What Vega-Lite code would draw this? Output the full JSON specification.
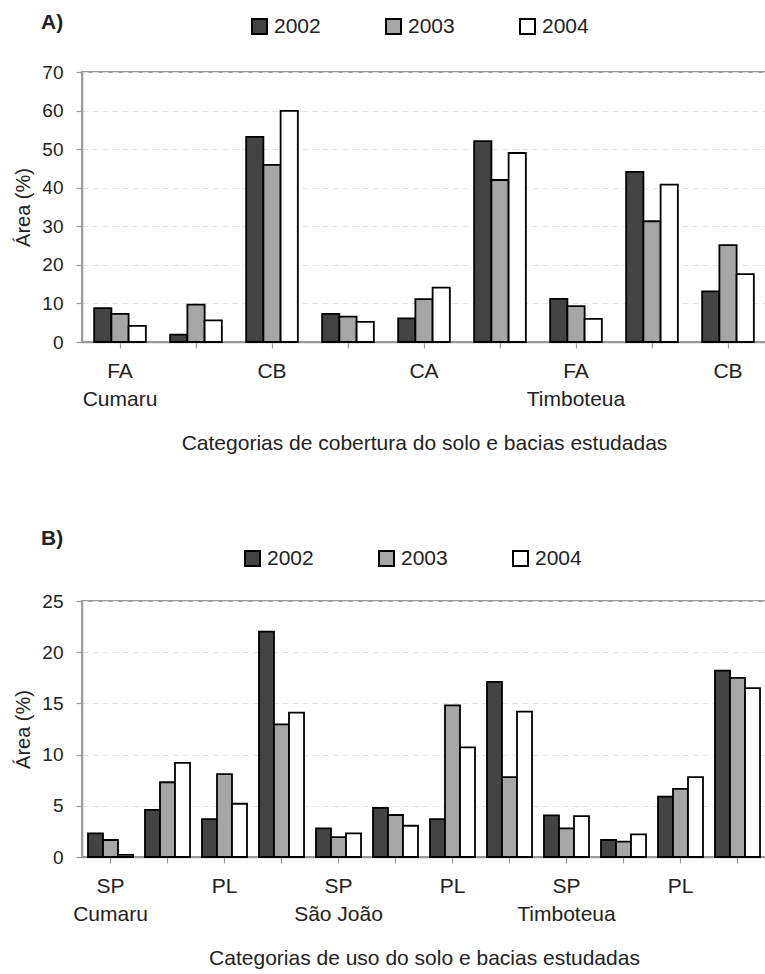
{
  "$schema": "https://vega.github.io/schema/vega-lite/v6.json",
  "padding": {"left": 12, "top": 11, "right": 0, "bottom": 4},
  "spacing": 73,
  "config": {
    "font": "Liberation Sans",
    "view": {"stroke": "#9a9a9a", "strokeWidth": 2},
    "axis": {
      "labelFont": "Liberation Sans",
      "titleFont": "Liberation Sans",
      "labelColor": "#222222",
      "titleColor": "#222222",
      "titleFontWeight": "normal",
      "domainColor": "#9a9a9a",
      "domainWidth": 1.5,
      "tickColor": "#9a9a9a",
      "tickWidth": 1.2,
      "tickSize": 6
    },
    "axisX": {
      "labelFontSize": 21,
      "labelAngle": 0,
      "labelPadding": 12,
      "labelOverlap": false,
      "grid": false,
      "titleFontSize": 21,
      "titlePadding": 23
    },
    "axisY": {
      "labelFontSize": 19,
      "labelPadding": 13,
      "grid": true,
      "gridColor": "#e2e2e2",
      "gridDash": [6, 4],
      "gridWidth": 1,
      "titleFontSize": 20,
      "titlePadding": 8
    },
    "legend": {
      "orient": "none",
      "direction": "horizontal",
      "symbolType": "square",
      "symbolSize": 225,
      "symbolStrokeColor": "#000000",
      "symbolStrokeWidth": 2,
      "labelFont": "Liberation Sans",
      "labelFontSize": 21,
      "labelColor": "#222222",
      "labelOffset": 4,
      "columnPadding": 61
    },
    "title": {"font": "Liberation Sans", "fontSize": 21, "fontWeight": "bold", "color": "#222222", "anchor": "start", "frame": "group"}
  },
  "datasets": {
    "a": [
      {"grupo": "FA|Cumaru", "ano": "2002", "area": 8.8},
      {"grupo": "FA|Cumaru", "ano": "2003", "area": 7.3},
      {"grupo": "FA|Cumaru", "ano": "2004", "area": 4.2},
      {"grupo": "CA|Cumaru", "ano": "2002", "area": 1.9},
      {"grupo": "CA|Cumaru", "ano": "2003", "area": 9.7},
      {"grupo": "CA|Cumaru", "ano": "2004", "area": 5.6},
      {"grupo": "CB|Cumaru", "ano": "2002", "area": 53.2},
      {"grupo": "CB|Cumaru", "ano": "2003", "area": 45.9},
      {"grupo": "CB|Cumaru", "ano": "2004", "area": 59.9},
      {"grupo": "FA|São João", "ano": "2002", "area": 7.3},
      {"grupo": "FA|São João", "ano": "2003", "area": 6.6},
      {"grupo": "FA|São João", "ano": "2004", "area": 5.2},
      {"grupo": "CA|São João", "ano": "2002", "area": 6.1},
      {"grupo": "CA|São João", "ano": "2003", "area": 11.1},
      {"grupo": "CA|São João", "ano": "2004", "area": 14.1},
      {"grupo": "CB|São João", "ano": "2002", "area": 52.1},
      {"grupo": "CB|São João", "ano": "2003", "area": 42.0},
      {"grupo": "CB|São João", "ano": "2004", "area": 49.0},
      {"grupo": "FA|Timboteua", "ano": "2002", "area": 11.2},
      {"grupo": "FA|Timboteua", "ano": "2003", "area": 9.3},
      {"grupo": "FA|Timboteua", "ano": "2004", "area": 6.0},
      {"grupo": "CA|Timboteua", "ano": "2002", "area": 44.1},
      {"grupo": "CA|Timboteua", "ano": "2003", "area": 31.3},
      {"grupo": "CA|Timboteua", "ano": "2004", "area": 40.8},
      {"grupo": "CB|Timboteua", "ano": "2002", "area": 13.1},
      {"grupo": "CB|Timboteua", "ano": "2003", "area": 25.1},
      {"grupo": "CB|Timboteua", "ano": "2004", "area": 17.6}
    ],
    "b": [
      {"grupo": "SP|Cumaru", "ano": "2002", "area": 2.3},
      {"grupo": "SP|Cumaru", "ano": "2003", "area": 1.66},
      {"grupo": "SP|Cumaru", "ano": "2004", "area": 0.2},
      {"grupo": "U2|Cumaru", "ano": "2002", "area": 4.6},
      {"grupo": "U2|Cumaru", "ano": "2003", "area": 7.3},
      {"grupo": "U2|Cumaru", "ano": "2004", "area": 9.2},
      {"grupo": "PL|Cumaru", "ano": "2002", "area": 3.7},
      {"grupo": "PL|Cumaru", "ano": "2003", "area": 8.1},
      {"grupo": "PL|Cumaru", "ano": "2004", "area": 5.2},
      {"grupo": "U4|Cumaru", "ano": "2002", "area": 22.0},
      {"grupo": "U4|Cumaru", "ano": "2003", "area": 12.95},
      {"grupo": "U4|Cumaru", "ano": "2004", "area": 14.1},
      {"grupo": "SP|São João", "ano": "2002", "area": 2.8},
      {"grupo": "SP|São João", "ano": "2003", "area": 1.95},
      {"grupo": "SP|São João", "ano": "2004", "area": 2.3},
      {"grupo": "U2|São João", "ano": "2002", "area": 4.8},
      {"grupo": "U2|São João", "ano": "2003", "area": 4.1},
      {"grupo": "U2|São João", "ano": "2004", "area": 3.05},
      {"grupo": "PL|São João", "ano": "2002", "area": 3.7},
      {"grupo": "PL|São João", "ano": "2003", "area": 14.8},
      {"grupo": "PL|São João", "ano": "2004", "area": 10.7},
      {"grupo": "U4|São João", "ano": "2002", "area": 17.1},
      {"grupo": "U4|São João", "ano": "2003", "area": 7.8},
      {"grupo": "U4|São João", "ano": "2004", "area": 14.2},
      {"grupo": "SP|Timboteua", "ano": "2002", "area": 4.06},
      {"grupo": "SP|Timboteua", "ano": "2003", "area": 2.8},
      {"grupo": "SP|Timboteua", "ano": "2004", "area": 4.0},
      {"grupo": "U2|Timboteua", "ano": "2002", "area": 1.66},
      {"grupo": "U2|Timboteua", "ano": "2003", "area": 1.5},
      {"grupo": "U2|Timboteua", "ano": "2004", "area": 2.2},
      {"grupo": "PL|Timboteua", "ano": "2002", "area": 5.9},
      {"grupo": "PL|Timboteua", "ano": "2003", "area": 6.65},
      {"grupo": "PL|Timboteua", "ano": "2004", "area": 7.8},
      {"grupo": "U4|Timboteua", "ano": "2002", "area": 18.2},
      {"grupo": "U4|Timboteua", "ano": "2003", "area": 17.5},
      {"grupo": "U4|Timboteua", "ano": "2004", "area": 16.5}
    ]
  },
  "vconcat": [
    {
      "width": 684,
      "height": 270,
      "title": {"text": "A)", "dx": -41, "offset": -17},
      "data": {"name": "a"},
      "layer": [
        {
          "mark": {"type": "bar", "stroke": "#000000", "strokeWidth": 1.8},
          "encoding": {
            "x": {
              "field": "grupo", "type": "nominal", "sort": null,
              "scale": {"paddingInner": 0.32, "paddingOuter": 0.16},
              "axis": {
                "title": null,
                "labelExpr": "indexof(['FA|Cumaru','CB|Cumaru','CA|São João','FA|Timboteua','CB|Timboteua'], datum.value) >= 0 ? substring(datum.value,0,2) : ''"
              }
            },
            "xOffset": {"field": "ano", "type": "nominal", "sort": ["2002", "2003", "2004"]},
            "y": {
              "field": "area", "type": "quantitative",
              "scale": {"domain": [0, 70]},
              "axis": {"title": "Área (%)", "values": [0, 10, 20, 30, 40, 50, 60, 70]}
            },
            "color": {
              "field": "ano", "type": "nominal",
              "scale": {"domain": ["2002", "2003", "2004"], "range": ["#434343", "#a6a6a6", "#ffffff"]},
              "legend": {"title": null, "legendX": 167, "legendY": -56}
            }
          }
        },
        {
          "mark": {"type": "bar", "opacity": 0},
          "encoding": {
            "x": {
              "field": "grupo", "type": "nominal", "sort": null,
              "axis": {
                "orient": "bottom",
                "offset": 34,
                "domain": false,
                "ticks": false,
                "title": "Categorias de cobertura do solo e bacias estudadas",
                "labelExpr": "indexof(['FA|Cumaru','FA|Timboteua'], datum.value) >= 0 ? substring(datum.value,3) : ''"
              }
            }
          }
        }
      ],
      "resolve": {"axis": {"x": "independent"}}
    },
    {
      "width": 684,
      "height": 256,
      "title": {"text": "B)", "dx": -41, "offset": -1},
      "data": {"name": "b"},
      "layer": [
        {
          "mark": {"type": "bar", "stroke": "#000000", "strokeWidth": 1.8},
          "encoding": {
            "x": {
              "field": "grupo", "type": "nominal", "sort": null,
              "scale": {"paddingInner": 0.21, "paddingOuter": 0.105},
              "axis": {
                "title": null,
                "labelExpr": "indexof(['SP','PL'], substring(datum.value,0,2)) >= 0 ? substring(datum.value,0,2) : ''"
              }
            },
            "xOffset": {"field": "ano", "type": "nominal", "sort": ["2002", "2003", "2004"]},
            "y": {
              "field": "area", "type": "quantitative",
              "scale": {"domain": [0, 25]},
              "axis": {"title": "Área (%)", "values": [0, 5, 10, 15, 20, 25]}
            },
            "color": {
              "field": "ano", "type": "nominal",
              "scale": {"domain": ["2002", "2003", "2004"], "range": ["#434343", "#a6a6a6", "#ffffff"]},
              "legend": {"title": null, "legendX": 160, "legendY": -53}
            }
          }
        },
        {
          "mark": {"type": "bar", "opacity": 0},
          "encoding": {
            "x": {
              "field": "grupo", "type": "nominal", "sort": null,
              "axis": {
                "orient": "bottom",
                "offset": 34,
                "domain": false,
                "ticks": false,
                "title": "Categorias de uso do solo e bacias estudadas",
                "labelExpr": "substring(datum.value,0,2) == 'SP' ? substring(datum.value,3) : ''"
              }
            }
          }
        }
      ],
      "resolve": {"axis": {"x": "independent"}}
    }
  ],
  "resolve": {
    "scale": {"x": "independent", "y": "independent", "xOffset": "independent", "color": "independent"},
    "legend": {"color": "independent"}
  }
}
